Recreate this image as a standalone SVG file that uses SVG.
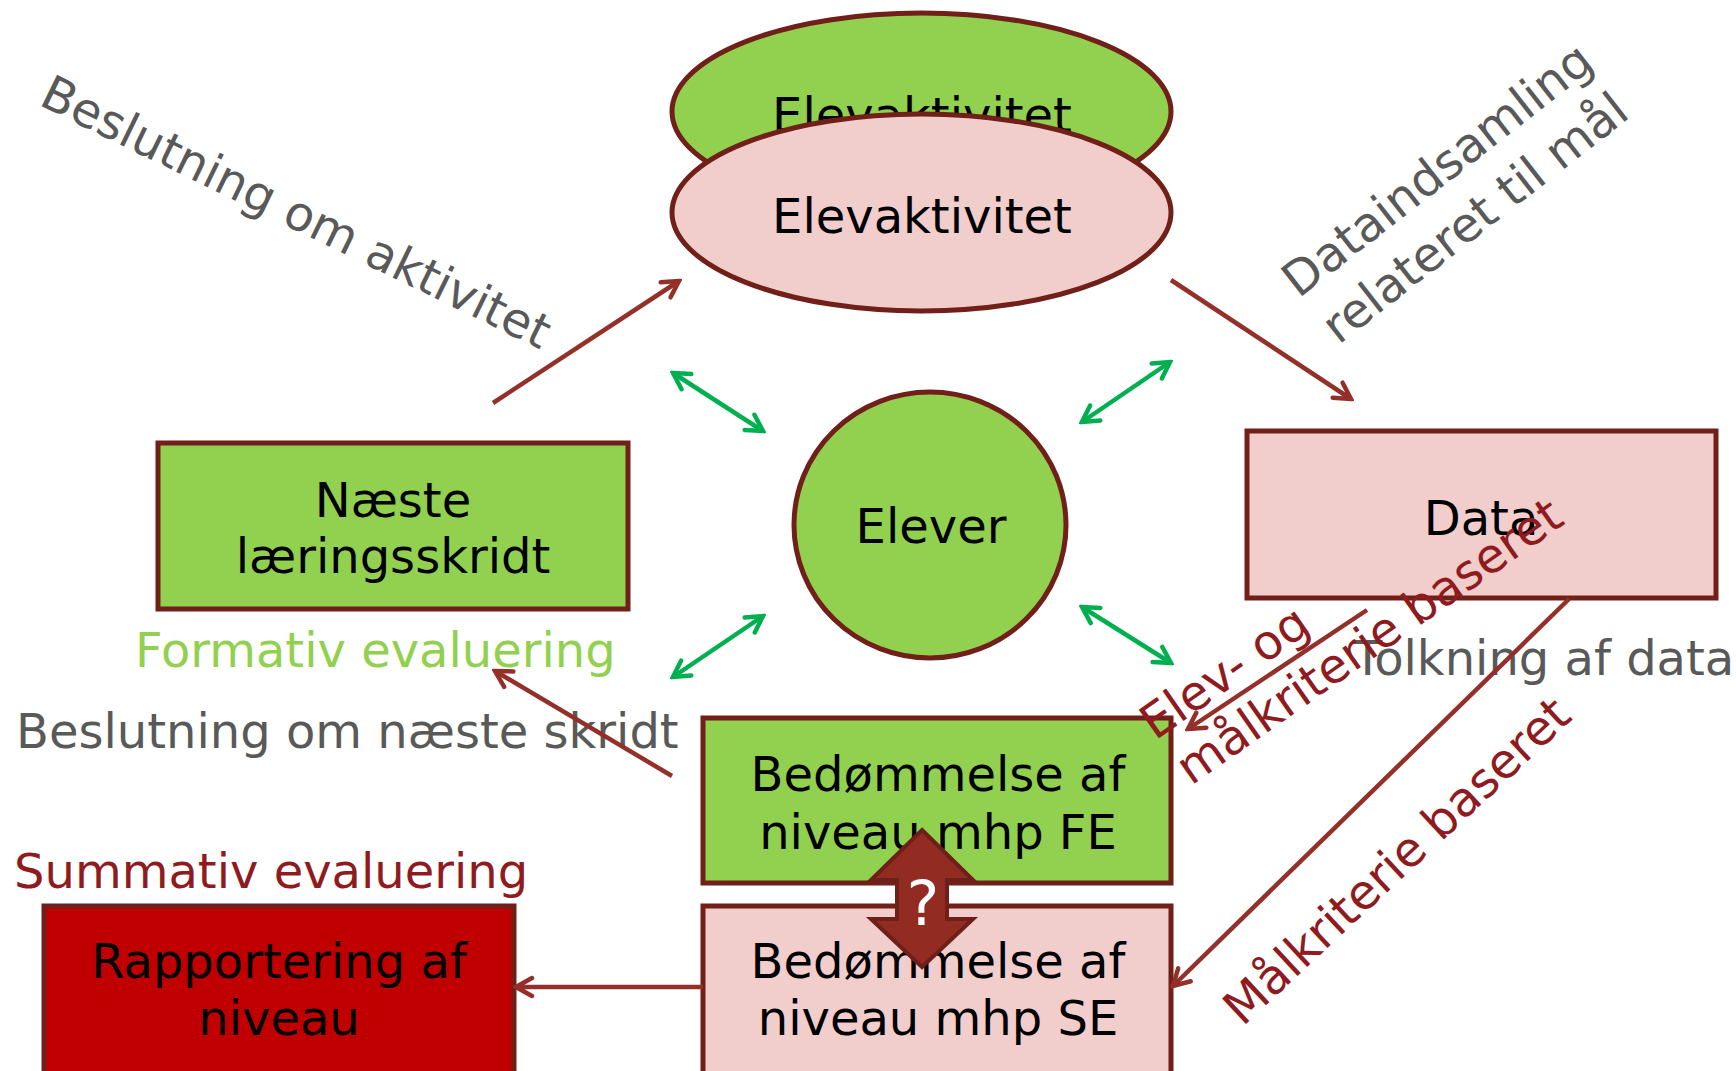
<svg xmlns="http://www.w3.org/2000/svg" width="1736" height="1071" viewBox="0 0 1736 1071">
<style>
.node{stroke:#701F19;stroke-width:5}
.green{fill:#92D050}
.pink{fill:#F1CDCB}
.red{fill:#C00000}
.t{font-family:"DejaVu Sans","Verdana",sans-serif;font-size:48px;fill:#000;text-anchor:middle}
.lbl{font-family:"DejaVu Sans","Verdana",sans-serif;font-size:48px}
.grey{fill:#595959}
.conn{stroke:#93302A;stroke-width:4.5;fill:none}
.gconn{stroke:#00B050;stroke-width:4.5;fill:none}
</style>
<defs>
<marker id="ar" viewBox="0 0 24 24" refX="21" refY="12" markerWidth="24" markerHeight="24" markerUnits="userSpaceOnUse" orient="auto">
<path d="M5,3 L21,12 L5,21" fill="none" stroke="#93302A" stroke-width="4.5" stroke-linecap="round"/>
</marker>
<marker id="ag" viewBox="0 0 24 24" refX="21" refY="12" markerWidth="24" markerHeight="24" markerUnits="userSpaceOnUse" orient="auto-start-reverse">
<path d="M5,3 L21,12 L5,21" fill="none" stroke="#00B050" stroke-width="4.5" stroke-linecap="round"/>
</marker>
</defs>
<rect width="1736" height="1071" fill="#fff"/>

<g id="elevaktivitet-back">
<ellipse class="node green" cx="921.5" cy="111.5" rx="249.5" ry="98.5"/>
<text class="t" x="922" y="132">Elevaktivitet</text>
</g>
<g id="elevaktivitet">
<ellipse class="node pink" cx="921.5" cy="212.5" rx="249.5" ry="98.5"/>
<text class="t" x="922" y="233">Elevaktivitet</text>
</g>
<g id="elever">
<ellipse class="node green" cx="930" cy="525" rx="136" ry="133"/>
<text class="t" x="931" y="543">Elever</text>
</g>
<g id="naeste">
<rect class="node green" x="158" y="443" width="470" height="166"/>
<text class="t" x="393" y="517">Næste</text>
<text class="t" x="393" y="573">læringsskridt</text>
</g>
<g id="data">
<rect class="node pink" x="1247" y="431" width="469" height="167"/>
<text class="t" x="1481" y="535">Data</text>
</g>
<g id="fe">
<rect class="node green" x="703" y="718" width="468" height="165"/>
<text class="t" x="938" y="791">Bedømmelse af</text>
<text class="t" x="938" y="849">niveau mhp FE</text>
</g>
<g id="se">
<rect class="node pink" x="703" y="906" width="468" height="175"/>
<text class="t" x="938" y="978">Bedømmelse af</text>
<text class="t" x="938" y="1035">niveau mhp SE</text>
</g>
<g id="rapportering">
<rect class="node red" x="44" y="906" width="470" height="175"/>
<text class="t" x="279" y="978">Rapportering af</text>
<text class="t" x="279" y="1035">niveau</text>
</g>

<g id="labels">
<text class="lbl grey" text-anchor="middle" transform="translate(289,227) rotate(26)">Beslutning om aktivitet</text>
<text class="lbl grey" text-anchor="middle" transform="translate(1464,204) rotate(-38)"><tspan x="0" y="-27">Dataindsamling</tspan><tspan x="0" y="34">relateret til mål</tspan></text>
<text class="lbl grey" x="1353" y="675">Tolkning af data</text>
<text class="lbl" fill="#92D050" x="135" y="667">Formativ evaluering</text>
<text class="lbl grey" x="16" y="748">Beslutning om næste skridt</text>
<text class="lbl" fill="#8F1B1F" x="14" y="888">Summativ evaluering</text>
<g fill="#8F1B1F" class="lbl">
<text transform="translate(1155,741) rotate(-35)">Elev- og</text>
<text transform="translate(1191,786) rotate(-35)">målkriterie baseret</text>
<text text-anchor="middle" transform="translate(1408,873) rotate(-43)">Målkriterie baseret</text>
</g>
</g>

<g id="connectors">
<line class="conn" x1="493" y1="403" x2="679" y2="281" marker-end="url(#ar)"/>
<line class="conn" x1="1171" y1="280" x2="1351" y2="399" marker-end="url(#ar)"/>
<line class="conn" x1="1367" y1="610" x2="1188" y2="729" marker-end="url(#ar)"/>
<line class="conn" x1="1569" y1="599" x2="1173" y2="986" marker-end="url(#ar)"/>
<line class="conn" x1="672" y1="776" x2="495" y2="671" marker-end="url(#ar)"/>
<line class="conn" x1="703" y1="987" x2="516" y2="987" marker-end="url(#ar)"/>
<line class="gconn" x1="673" y1="373" x2="763" y2="431" marker-start="url(#ag)" marker-end="url(#ag)"/>
<line class="gconn" x1="1082" y1="422" x2="1170" y2="362" marker-start="url(#ag)" marker-end="url(#ag)"/>
<line class="gconn" x1="673" y1="677" x2="763" y2="616" marker-start="url(#ag)" marker-end="url(#ag)"/>
<line class="gconn" x1="1082" y1="607" x2="1171" y2="663" marker-start="url(#ag)" marker-end="url(#ag)"/>
</g>

<g id="fe-se-question">
<polygon points="922,830 973,880 947,880 947,919 973,919 922,967 871,919 897,919 897,880 871,880" fill="#922B21" stroke="#6E1F1A" stroke-width="4" stroke-linejoin="miter"/>
<text x="923" y="925" font-family="DejaVu Sans, Verdana, sans-serif" font-size="62" fill="#fff" text-anchor="middle">?</text>
</g>
</svg>
